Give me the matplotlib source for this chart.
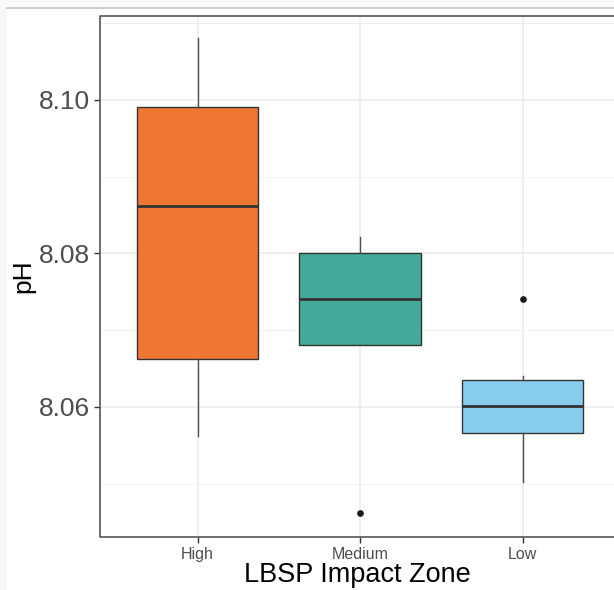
import matplotlib.pyplot as plt
from matplotlib.patches import Rectangle
from matplotlib.lines import Line2D

# pH summary per LBSP impact zone (box plot statistics)
zones = ["High", "Medium", "Low"]
whisker_low = [8.0562, 8.0680, 8.0502]
q1 = [8.0662, 8.0680, 8.0566]
medians = [8.0862, 8.0741, 8.0601]
q3 = [8.0991, 8.0800, 8.0635]
whisker_high = [8.1081, 8.0821, 8.0640]
outliers = [[], [8.0462], [8.0740]]

colors = ["#EE7733", "#44AA99", "#88CCEE"]

plt.rcParams["font.family"] = ["Liberation Sans", "DejaVu Sans"]

fig = plt.figure(figsize=(6.14, 5.90), dpi=100)
fig.patch.set_facecolor("white")

# light frame around the figure edge
fig.patches.append(Rectangle((0, 0), 7 / 614, 1, transform=fig.transFigure,
                             facecolor="#f7f7f7", edgecolor="none", zorder=0))
fig.patches.append(Rectangle((0, 1 - 7 / 590), 1, 7 / 590, transform=fig.transFigure,
                             facecolor="#f9f9f9", edgecolor="none", zorder=0))
fig.lines.append(Line2D([7 / 614, 1], [1 - 7.5 / 590] * 2, transform=fig.transFigure,
                        color="#c4c4c4", lw=1.2))

# panel runs off the right edge of the figure
ax = fig.add_axes([100 / 614, 1 - 537 / 590, 514 / 614, 521.5 / 590])
ax.set_xlim(0.4, 3.563)
ax.set_ylim(8.04303, 8.1110)

stats = []
for i, z in enumerate(zones):
    stats.append({
        "label": z,
        "whislo": whisker_low[i],
        "q1": q1[i],
        "med": medians[i],
        "q3": q3[i],
        "whishi": whisker_high[i],
        "fliers": outliers[i],
    })

bp = ax.bxp(stats, positions=[1, 2, 3], widths=0.75, patch_artist=True,
            showcaps=False,
            boxprops=dict(edgecolor="#333333", linewidth=1.0),
            medianprops=dict(color="#333333", linewidth=2.0),
            whiskerprops=dict(color="#4d4d4d", linewidth=1.0),
            flierprops=dict(marker="o", markerfacecolor="#1a1a1a",
                            markeredgecolor="#1a1a1a", markersize=3.8))
for patch, c in zip(bp["boxes"], colors):
    patch.set_facecolor(c)

# theme_bw style grid
ax.set_yticks([8.06, 8.08, 8.10])
ax.set_yticklabels(["8.06", "8.08", "8.10"])
ax.set_yticks([8.05, 8.07, 8.09, 8.11], minor=True)
ax.set_xticks([1, 2, 3])
ax.set_xticklabels(zones)
ax.grid(which="major", color="#ebebeb", linewidth=1.1, zorder=0)
ax.grid(which="minor", axis="y", color="#f2f2f2", linewidth=0.7, zorder=0)
ax.set_axisbelow(True)

ax.tick_params(axis="y", which="major", labelsize=19, labelcolor="#4d4d4d",
               color="#333333", length=4, width=1, pad=3)
ax.tick_params(axis="x", which="major", labelsize=11.5, labelcolor="#4d4d4d",
               color="#333333", length=4, width=1, pad=3)
ax.tick_params(which="minor", length=0)

# panel border: left, top and bottom only (right side is off the figure)
ax.set_frame_on(False)
ax.plot([1.05, 0, 0, 1.05], [1, 1, 0, 0], transform=ax.transAxes,
        color="#555555", lw=1.2, clip_on=False, zorder=5)

ax.set_xlabel("LBSP Impact Zone", fontsize=19.5, color="black", labelpad=0)
ax.set_ylabel("pH", fontsize=19, color="black", labelpad=3)

fig.savefig("out.png", dpi=100)
